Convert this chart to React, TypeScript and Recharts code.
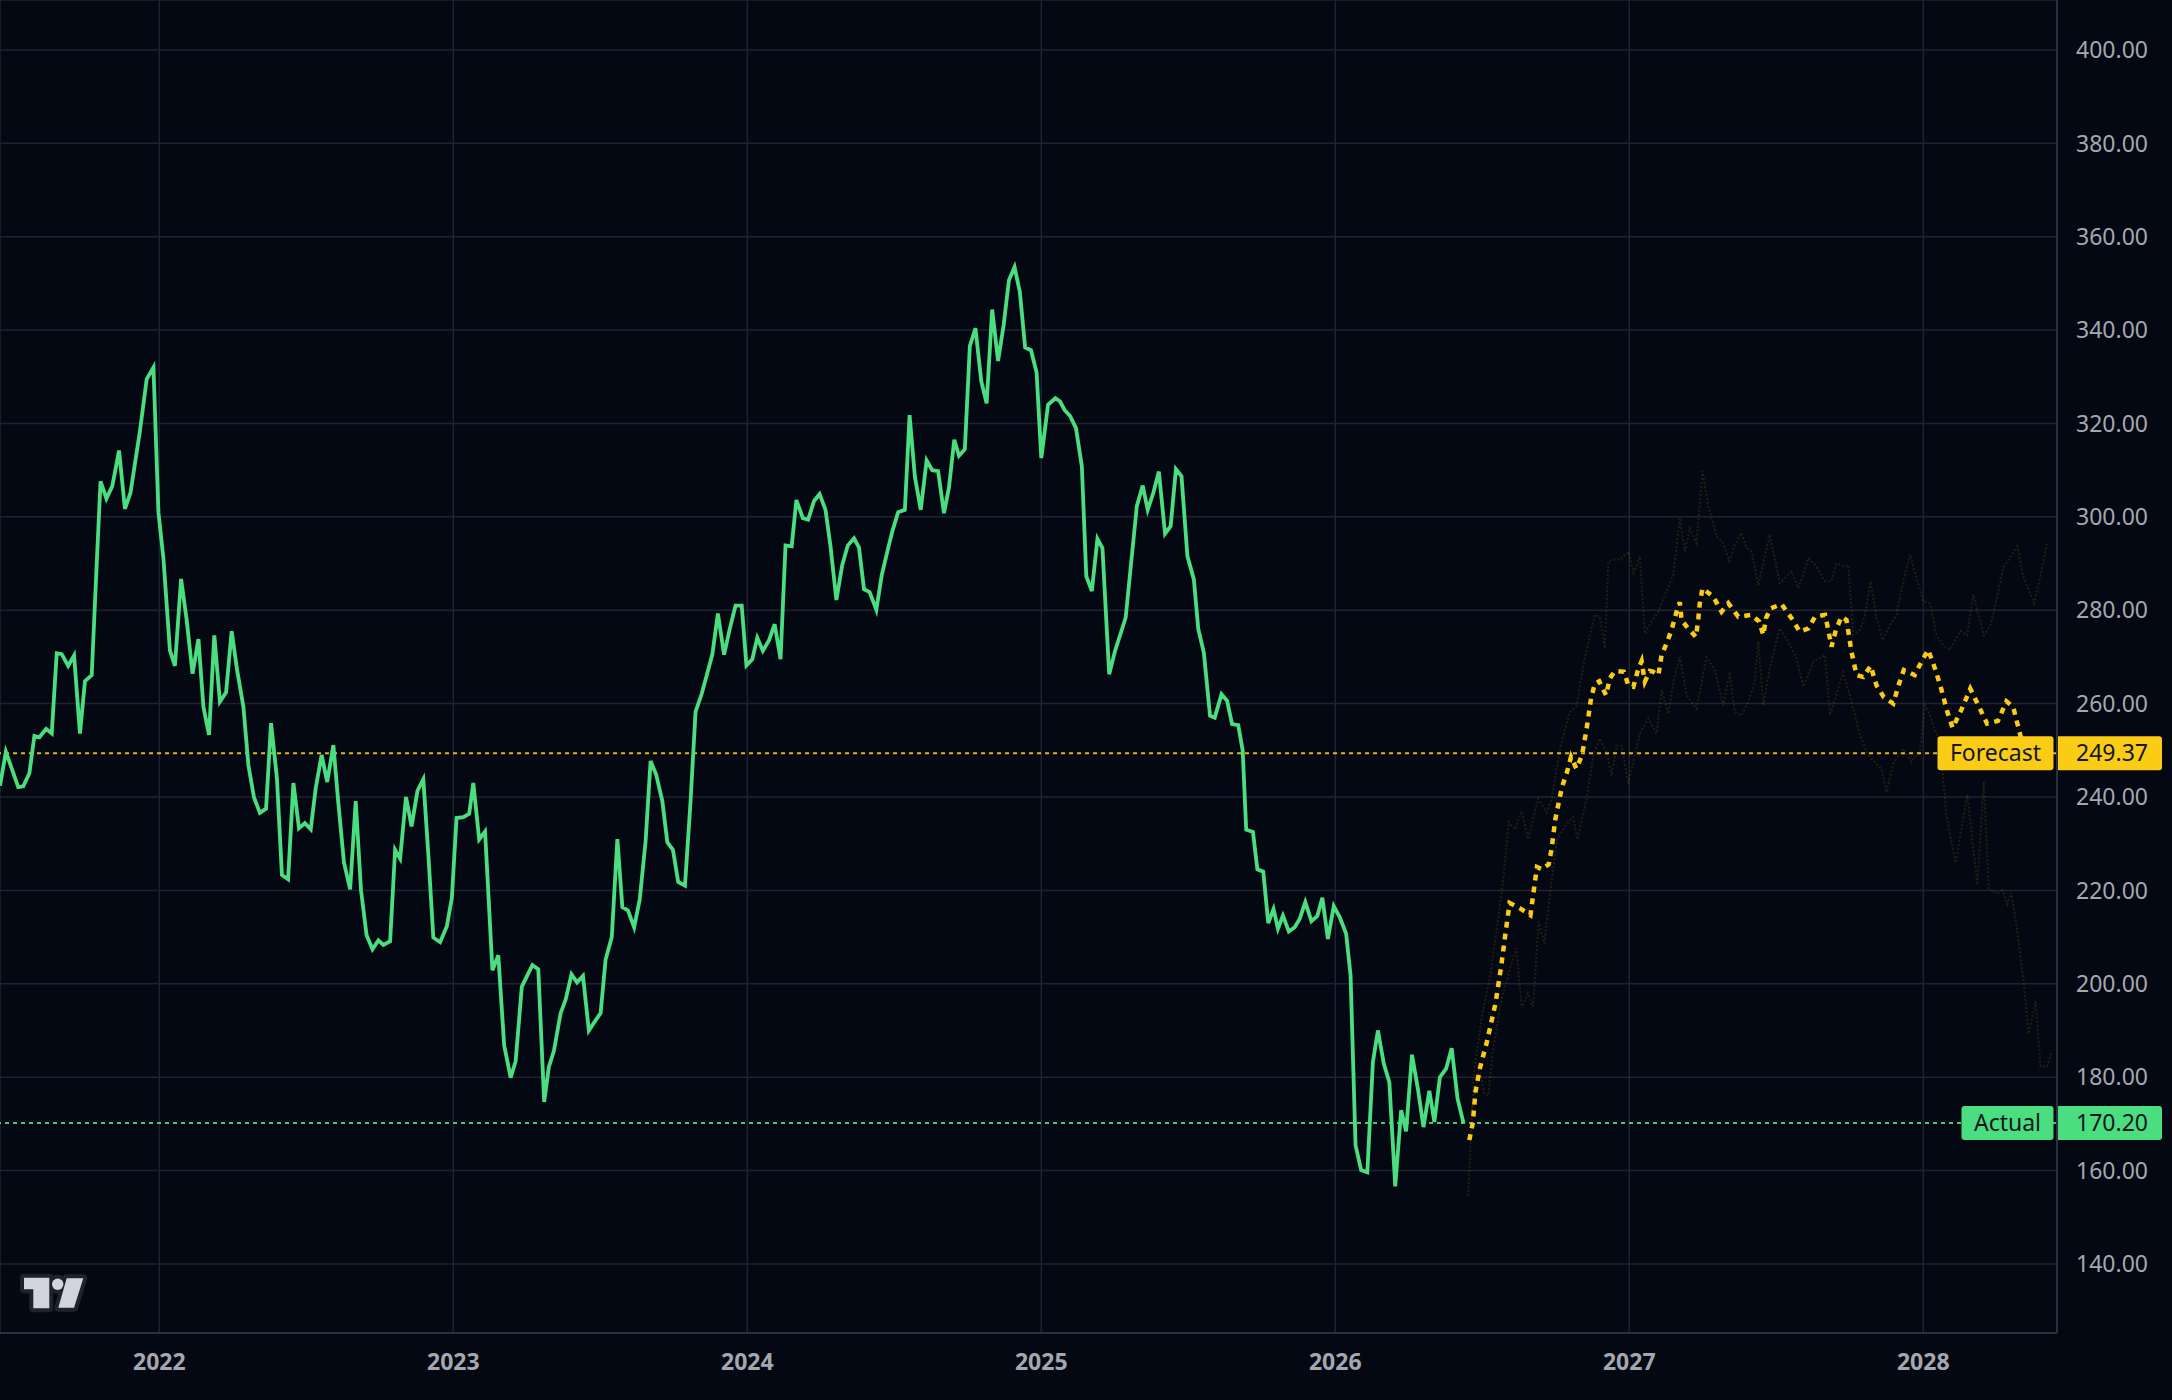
import { ComposedChart, Line, XAxis, YAxis, CartesianGrid, ReferenceLine } from 'recharts';

// [decimal year, price]
const actual: [number, number][] = [
    [2021.458, 242.4], [2021.478, 249.7], [2021.52, 242.1], [2021.537, 242.3], [2021.558, 245.1], [2021.575, 253.1],
    [2021.592, 252.8], [2021.615, 254.6], [2021.634, 253.6], [2021.651, 270.8], [2021.668, 270.6], [2021.69, 268.1],
    [2021.71, 270.3], [2021.73, 253.6], [2021.747, 264.8], [2021.77, 266.1], [2021.787, 290.0], [2021.8, 307.6],
    [2021.82, 303.9], [2021.84, 306.6], [2021.863, 314.2], [2021.883, 301.7], [2021.902, 305.2], [2021.934, 318.4],
    [2021.957, 329.5], [2021.98, 332.0], [2021.997, 300.9], [2022.014, 291.0], [2022.036, 271.4], [2022.053, 268.1],
    [2022.074, 286.7], [2022.093, 277.9], [2022.113, 266.4], [2022.133, 273.8], [2022.15, 259.3], [2022.169, 253.3],
    [2022.187, 274.6], [2022.206, 260.4], [2022.227, 262.4], [2022.246, 275.5], [2022.265, 267.0], [2022.286, 259.3],
    [2022.303, 246.8], [2022.322, 239.9], [2022.342, 236.6], [2022.363, 237.5], [2022.38, 255.8], [2022.4, 244.0],
    [2022.417, 223.3], [2022.438, 222.4], [2022.456, 243.0], [2022.475, 233.3], [2022.495, 234.4], [2022.515, 233.1],
    [2022.532, 241.9], [2022.552, 249.0], [2022.571, 243.2], [2022.592, 251.1], [2022.609, 238.6], [2022.628, 226.0],
    [2022.649, 220.2], [2022.668, 239.1], [2022.686, 220.0], [2022.705, 210.4], [2022.725, 207.4], [2022.745, 209.3],
    [2022.762, 208.3], [2022.785, 209.1], [2022.802, 228.7], [2022.819, 226.8], [2022.839, 240.0], [2022.858, 233.7],
    [2022.878, 241.3], [2022.898, 243.8], [2022.915, 227.7], [2022.932, 209.9], [2022.955, 208.9], [2022.978, 212.3],
    [2022.995, 218.4], [2023.011, 235.5], [2023.034, 235.7], [2023.054, 236.4], [2023.068, 243.0], [2023.088, 230.9],
    [2023.108, 232.6], [2023.133, 202.9], [2023.153, 206.1], [2023.173, 186.8], [2023.195, 179.9], [2023.212, 183.4],
    [2023.233, 199.4], [2023.269, 204.0], [2023.289, 203.1], [2023.309, 174.7], [2023.325, 182.2], [2023.342, 185.6],
    [2023.365, 193.7], [2023.382, 196.6], [2023.402, 202.0], [2023.421, 200.3], [2023.441, 201.7], [2023.461, 190.0],
    [2023.482, 192.0], [2023.501, 193.7], [2023.518, 205.2], [2023.539, 210.0], [2023.558, 231.0], [2023.575, 216.4],
    [2023.594, 215.7], [2023.615, 212.1], [2023.634, 218.0], [2023.654, 230.5], [2023.671, 247.7], [2023.69, 244.8],
    [2023.711, 239.1], [2023.728, 230.3], [2023.747, 228.7], [2023.765, 221.8], [2023.788, 221.0], [2023.807, 239.1],
    [2023.824, 258.3], [2023.845, 262.1], [2023.881, 270.5], [2023.9, 279.3], [2023.921, 270.5], [2023.94, 275.9],
    [2023.96, 281.0], [2023.981, 281.0], [2023.997, 268.2], [2024.017, 269.5], [2024.034, 274.1], [2024.053, 271.3],
    [2024.074, 273.6], [2024.093, 277.0], [2024.113, 269.5], [2024.13, 293.9], [2024.151, 293.7], [2024.167, 303.6],
    [2024.189, 299.7], [2024.207, 299.4], [2024.227, 303.4], [2024.246, 304.9], [2024.266, 301.5], [2024.283, 293.7],
    [2024.303, 282.2], [2024.323, 289.7], [2024.342, 293.9], [2024.363, 295.4], [2024.38, 293.4], [2024.397, 284.5],
    [2024.416, 283.9], [2024.439, 280.1], [2024.457, 287.4], [2024.476, 292.5], [2024.493, 296.8], [2024.513, 301.0],
    [2024.536, 301.5], [2024.552, 321.8], [2024.57, 308.6], [2024.59, 301.5], [2024.61, 312.1], [2024.629, 310.0],
    [2024.649, 309.8], [2024.669, 300.8], [2024.686, 306.3], [2024.704, 316.5], [2024.72, 313.1], [2024.74, 314.5],
    [2024.757, 336.6], [2024.776, 340.4], [2024.796, 329.0], [2024.814, 324.3], [2024.833, 344.4], [2024.853, 333.4],
    [2024.872, 341.1], [2024.89, 350.7], [2024.909, 353.5], [2024.927, 348.2], [2024.945, 336.3], [2024.965, 335.7],
    [2024.984, 330.9], [2025.0, 312.6], [2025.023, 324.0], [2025.048, 325.4], [2025.064, 324.7], [2025.079, 322.9],
    [2025.098, 321.6], [2025.118, 319.0], [2025.138, 310.8], [2025.153, 287.3], [2025.172, 284.1], [2025.191, 295.3],
    [2025.208, 293.3], [2025.231, 266.3], [2025.251, 271.3], [2025.287, 278.4], [2025.325, 302.3], [2025.345, 306.7],
    [2025.362, 301.5], [2025.381, 305.1], [2025.4, 309.7], [2025.421, 296.4], [2025.44, 298.0], [2025.458, 310.2],
    [2025.477, 308.7], [2025.497, 291.6], [2025.519, 286.6], [2025.534, 276.0], [2025.553, 270.9], [2025.574, 257.4],
    [2025.59, 257.0], [2025.613, 262.0], [2025.632, 260.6], [2025.649, 255.6], [2025.67, 255.4], [2025.685, 250.0],
    [2025.697, 233.0], [2025.72, 232.5], [2025.735, 224.5], [2025.755, 224.0], [2025.772, 213.0], [2025.79, 216.0],
    [2025.805, 211.8], [2025.822, 214.6], [2025.842, 211.2], [2025.862, 212.1], [2025.879, 213.9], [2025.898, 217.5],
    [2025.919, 213.4], [2025.939, 214.5], [2025.956, 218.4], [2025.975, 209.6], [2025.995, 216.6], [2026.015, 214.3],
    [2026.037, 210.7], [2026.052, 201.8], [2026.069, 165.4], [2026.088, 160.1], [2026.109, 159.6], [2026.128, 183.2],
    [2026.145, 190.0], [2026.165, 182.9], [2026.184, 178.9], [2026.204, 156.6], [2026.224, 172.9], [2026.241, 168.4],
    [2026.261, 184.8], [2026.281, 177.5], [2026.3, 169.3], [2026.32, 177.1], [2026.337, 170.4], [2026.356, 180.0],
    [2026.377, 181.8], [2026.396, 186.2], [2026.416, 175.4], [2026.436, 170.2],
];

const forecast: [number, number][] = [
    [2026.456, 166.5], [2026.468, 170.3], [2026.477, 176.9], [2026.492, 181.9], [2026.516, 187.6], [2026.545, 195.8],
    [2026.564, 203.6], [2026.579, 210.8], [2026.593, 217.3], [2026.63, 216.1], [2026.664, 214.7], [2026.686, 225.0],
    [2026.703, 224.5], [2026.726, 225.6], [2026.735, 228.6], [2026.749, 235.4], [2026.771, 242.1], [2026.788, 245.3],
    [2026.802, 248.6], [2026.82, 246.1], [2026.839, 248.9], [2026.855, 254.6], [2026.87, 261.1], [2026.883, 264.3],
    [2026.898, 264.8], [2026.921, 261.8], [2026.934, 265.4], [2026.951, 267.0], [2026.982, 266.8], [2026.997, 263.9],
    [2027.014, 263.6], [2027.031, 267.5], [2027.042, 269.1], [2027.053, 264.7], [2027.07, 267.0], [2027.082, 266.8],
    [2027.099, 266.1], [2027.11, 270.4], [2027.127, 272.9], [2027.144, 275.8], [2027.161, 279.7], [2027.172, 281.7],
    [2027.178, 277.9], [2027.2, 276.1], [2027.227, 274.3], [2027.235, 278.3], [2027.24, 281.5], [2027.249, 284.7],
    [2027.286, 282.9], [2027.314, 279.7], [2027.337, 281.5], [2027.371, 278.6], [2027.416, 279.0], [2027.442, 277.6],
    [2027.456, 274.7], [2027.465, 278.3], [2027.481, 280.4], [2027.518, 281.3], [2027.552, 278.3], [2027.58, 275.4],
    [2027.609, 276.1], [2027.632, 278.6], [2027.666, 279.0], [2027.677, 275.8], [2027.688, 272.2], [2027.703, 275.8],
    [2027.722, 278.6], [2027.739, 277.9], [2027.756, 271.1], [2027.773, 266.1], [2027.796, 265.7], [2027.821, 268.1],
    [2027.841, 263.9], [2027.866, 261.4], [2027.898, 260.0], [2027.918, 264.3], [2027.934, 267.2], [2027.971, 266.1],
    [2027.994, 269.0], [2028.017, 271.5], [2028.04, 267.5], [2028.061, 263.2], [2028.082, 258.2], [2028.1, 254.8],
    [2028.13, 258.7], [2028.16, 263.2], [2028.19, 259.3], [2028.217, 255.7], [2028.254, 256.3], [2028.283, 260.5],
    [2028.306, 259.3], [2028.33, 253.3], [2028.349, 249.37],
];

// faint simulated paths around the forecast
const upperPath: [number, number][] = [
    [2026.452, 154.6], [2026.471, 180.8], [2026.499, 193.0], [2026.528, 202.2], [2026.55, 212.0], [2026.571, 222.0],
    [2026.59, 234.7], [2026.611, 233.0], [2026.634, 237.0], [2026.656, 231.0], [2026.69, 239.6], [2026.719, 236.7],
    [2026.736, 239.6], [2026.764, 250.3], [2026.798, 258.2], [2026.82, 259.3], [2026.844, 268.2], [2026.866, 274.7],
    [2026.883, 279.0], [2026.9, 278.6], [2026.917, 271.8], [2026.929, 290.5], [2026.946, 290.8], [2026.968, 290.8],
    [2026.997, 292.6], [2027.014, 288.0], [2027.036, 291.5], [2027.053, 275.0], [2027.076, 277.6], [2027.099, 279.7],
    [2027.121, 283.3], [2027.15, 287.6], [2027.172, 299.8], [2027.189, 292.6], [2027.206, 297.6], [2027.229, 294.4],
    [2027.249, 309.8], [2027.269, 302.3], [2027.297, 295.8], [2027.32, 294.4], [2027.34, 290.5], [2027.359, 294.0],
    [2027.382, 296.6], [2027.399, 293.3], [2027.416, 292.6], [2027.439, 285.4], [2027.478, 296.2], [2027.512, 285.8],
    [2027.552, 288.3], [2027.575, 284.7], [2027.609, 291.2], [2027.632, 289.7], [2027.666, 286.2], [2027.688, 286.2],
    [2027.705, 290.1], [2027.728, 289.4], [2027.745, 289.7], [2027.762, 274.7], [2027.785, 275.8], [2027.802, 279.0],
    [2027.821, 286.2], [2027.841, 278.3], [2027.862, 273.6], [2027.887, 276.8], [2027.909, 279.0], [2027.932, 286.2],
    [2027.955, 291.9], [2027.977, 286.9], [2028.0, 281.9], [2028.023, 281.5], [2028.045, 274.7], [2028.068, 272.5],
    [2028.091, 271.5], [2028.127, 275.6], [2028.15, 274.6], [2028.17, 283.4], [2028.206, 274.6], [2028.23, 277.0],
    [2028.274, 289.3], [2028.32, 293.7], [2028.34, 287.3], [2028.377, 281.5], [2028.4, 287.8], [2028.422, 294.6],
];

const lowerPath: [number, number][] = [
    [2026.462, 172.0], [2026.473, 175.4], [2026.49, 182.0], [2026.507, 176.5], [2026.52, 176.0], [2026.535, 185.0],
    [2026.562, 195.8], [2026.59, 202.2], [2026.616, 207.6], [2026.635, 194.7], [2026.655, 198.0], [2026.673, 195.1],
    [2026.692, 213.3], [2026.711, 208.6], [2026.732, 220.0], [2026.754, 230.7], [2026.783, 233.9], [2026.809, 235.7],
    [2026.824, 230.9], [2026.856, 240.0], [2026.879, 249.3], [2026.9, 252.5], [2026.923, 249.5], [2026.94, 244.6],
    [2026.957, 251.0], [2026.974, 251.0], [2026.997, 242.8], [2027.014, 247.5], [2027.036, 253.6], [2027.065, 256.8],
    [2027.093, 253.6], [2027.11, 262.9], [2027.133, 257.8], [2027.15, 264.7], [2027.172, 270.0], [2027.195, 261.8],
    [2027.229, 258.9], [2027.263, 270.0], [2027.291, 267.2], [2027.32, 259.6], [2027.342, 266.8], [2027.359, 258.2],
    [2027.382, 257.5], [2027.405, 260.4], [2027.427, 264.7], [2027.439, 273.3], [2027.456, 259.6], [2027.478, 267.5],
    [2027.512, 276.1], [2027.541, 273.3], [2027.569, 269.7], [2027.592, 263.6], [2027.626, 269.0], [2027.666, 270.4],
    [2027.683, 257.5], [2027.728, 266.8], [2027.756, 260.4], [2027.785, 253.2], [2027.813, 248.9], [2027.858, 246.0],
    [2027.875, 241.0], [2027.898, 247.1], [2027.932, 250.3], [2027.96, 247.5], [2027.989, 250.0], [2028.006, 259.6],
    [2028.023, 257.5], [2028.034, 255.3], [2028.057, 251.8], [2028.079, 236.0], [2028.11, 225.9], [2028.15, 240.5],
    [2028.184, 221.2], [2028.206, 243.3], [2028.223, 220.3], [2028.252, 219.3], [2028.27, 220.0], [2028.286, 217.0],
    [2028.3, 219.5], [2028.32, 211.4], [2028.342, 200.1], [2028.359, 189.3], [2028.382, 196.3], [2028.399, 182.3],
    [2028.421, 182.3], [2028.438, 185.5],
];

const yearTicks = [2022, 2023, 2024, 2025, 2026, 2027, 2028];
const priceTicks = [140, 160, 180, 200, 220, 240, 260, 280, 300, 320, 340, 360, 380, 400];

const BG = '#040812';
const GRID = '#1d2330';
const AXIS = '#2a303c';
const TEXT = '#a4a7b0';
const GREEN = '#4ade80';
const YELLOW = '#facc15';
const FONT = '"Noto Sans", "Open Sans", sans-serif';

const toRows = (pts: [number, number][]) => pts.map(([t, v]) => ({ t, v }));

function PriceBadge(props: any) {
    const { viewBox, name, price, color, nameWidth } = props;
    if (!viewBox) return null;
    const right = viewBox.x + viewBox.width;
    const cy = viewBox.y;
    return (
        <g>
            <rect x={right - nameWidth - 3.5} y={cy - 17} width={nameWidth} height={34} rx={3} fill={color} />
            <text x={right - nameWidth / 2 - 3.5} y={cy} dy="0.35em" textAnchor="middle" fontSize={23} fontFamily={FONT} fill="#131722">
                {name}
            </text>
            <rect x={right - 1} y={cy - 17} width={106} height={34} rx={3} fill={color} />
            <text x={right + 19} y={cy} dy="0.35em" textAnchor="start" fontSize={23} fontFamily={FONT} fill="#131722">
                {price.toFixed(2)}
            </text>
        </g>
    );
}

function Logo() {
    const shapes = (
        <>
            <path d="M24 1277.7 H49.3 V1308.3 H33.3 V1289.3 H24 Z" />
            <circle cx={57.7} cy={1284.3} r={5.7} />
            <path d="M66.7 1278.3 H83.3 L74 1307.7 H58.3 Z" />
        </>
    );
    return (
        <svg width={2172} height={1400} style={{ position: 'absolute', left: 0, top: 0, pointerEvents: 'none' }}>
            <g fill="#1e222d" stroke="#1e222d" strokeWidth={8} strokeLinejoin="round">{shapes}</g>
            <g fill="#d1d4dc">{shapes}</g>
        </svg>
    );
}

export default function App() {
    const lastActual = actual[actual.length - 1][1];
    const lastForecast = forecast[forecast.length - 1][1];

    return (
        <div style={{ position: 'relative', width: 2172, height: 1400, background: BG, fontFamily: FONT }}>
            <style>{`body{margin:0;background:${BG};}`}</style>
            <ComposedChart width={2172} height={1400} margin={{ top: 0, right: 0, bottom: 0, left: 0 }}>
                <CartesianGrid stroke={GRID} strokeWidth={1.5} />
                <XAxis
                    dataKey="t"
                    type="number"
                    domain={[2021.458, 2028.455]}
                    allowDataOverflow
                    ticks={yearTicks}
                    tickFormatter={(v) => String(v)}
                    height={67}
                    stroke={AXIS}
                    strokeWidth={2}
                    tickLine={false}
                    tickSize={0}
                    tickMargin={21}
                    tick={{ fill: TEXT, fontSize: 23, fontWeight: 700, fontFamily: FONT }}
                />
                <YAxis
                    orientation="right"
                    type="number"
                    domain={[125.2, 410.7]}
                    allowDataOverflow
                    ticks={priceTicks}
                    tickFormatter={(v) => v.toFixed(2)}
                    width={115}
                    stroke={AXIS}
                    strokeWidth={2}
                    tickLine={false}
                    tickSize={0}
                    tickMargin={19}
                    tick={{ fill: TEXT, fontSize: 23, fontFamily: FONT }}
                />

                <Line data={toRows(upperPath)} dataKey="v" type="linear" stroke={YELLOW} strokeOpacity={0.12}
                    strokeWidth={2} strokeDasharray="2 2" dot={false} activeDot={false} isAnimationActive={false} />
                <Line data={toRows(lowerPath)} dataKey="v" type="linear" stroke={YELLOW} strokeOpacity={0.12}
                    strokeWidth={2} strokeDasharray="2 2" dot={false} activeDot={false} isAnimationActive={false} />

                <ReferenceLine y={lastForecast} stroke={YELLOW} strokeOpacity={0.9} strokeWidth={2} strokeDasharray="4 4"
                    label={<PriceBadge name="Forecast" price={lastForecast} color={YELLOW} nameWidth={116} />} />
                <ReferenceLine y={lastActual} stroke={GREEN} strokeOpacity={0.9} strokeWidth={2} strokeDasharray="4 4"
                    label={<PriceBadge name="Actual" price={lastActual} color={GREEN} nameWidth={92} />} />

                <Line data={toRows(actual)} dataKey="v" type="linear" stroke={GREEN} strokeWidth={3.8}
                    dot={false} activeDot={false} isAnimationActive={false} />
                <Line data={toRows(forecast)} dataKey="v" type="linear" stroke={YELLOW} strokeWidth={4.5}
                    strokeDasharray="6 6" dot={false} activeDot={false} isAnimationActive={false} />
            </ComposedChart>
            <Logo />
        </div>
    );
}
